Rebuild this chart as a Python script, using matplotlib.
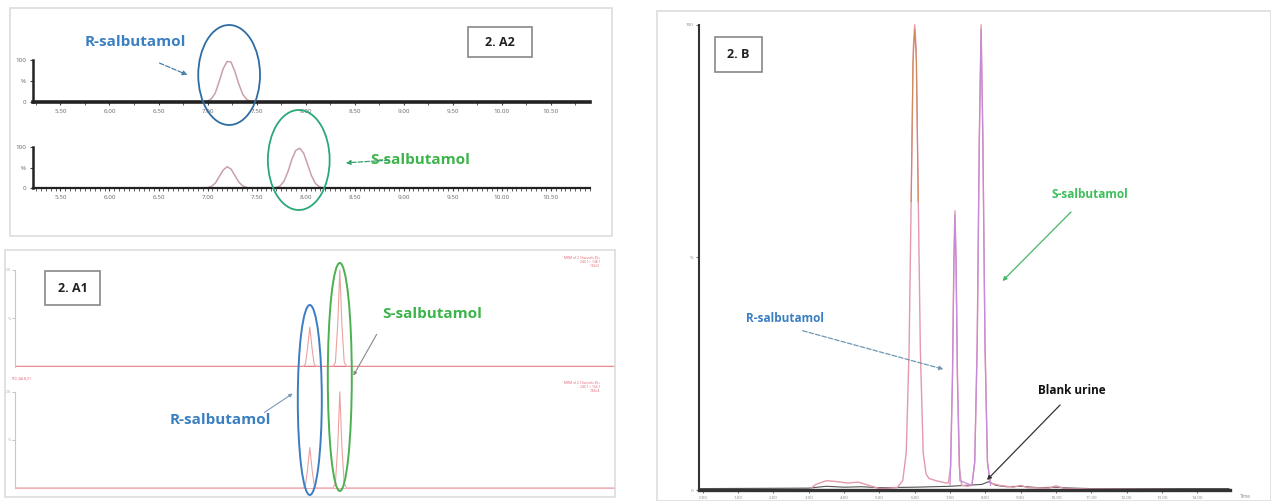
import matplotlib
matplotlib.use("Agg")
import matplotlib.pyplot as plt
import matplotlib.transforms as mtransforms
from matplotlib.patches import Ellipse, Rectangle
from matplotlib.ticker import MultipleLocator, FixedLocator

plt.rcParams["font.family"] = ["Open Sans", "DejaVu Sans"]

W, H = 1271, 501

# 2. A2 : R 채널 (위)
a2_top_t = [5.22, 6.96, 7.00, 7.04, 7.08, 7.12, 7.16, 7.20, 7.24, 7.28, 7.32, 7.36, 7.40, 7.44, 7.48, 10.90]
a2_top_i = [0, 0, 2, 8, 22, 50, 80, 97, 95, 72, 42, 18, 6, 1, 0, 0]
# 2. A2 : S 채널 (아래)
a2_bot_t = [5.22, 6.96, 7.00, 7.04, 7.08, 7.12, 7.16, 7.20, 7.24, 7.28, 7.32, 7.36, 7.40, 7.44,
            7.66, 7.70, 7.74, 7.78, 7.82, 7.86, 7.90, 7.94, 7.98, 8.02, 8.06, 8.10, 8.14, 8.18, 10.90]
a2_bot_i = [0, 0, 1, 4, 12, 28, 44, 52, 46, 30, 14, 5, 1, 0,
            0, 1, 5, 17, 40, 70, 92, 97, 85, 58, 30, 11, 3, 0, 0]
a2_ticks = [5.5, 6.0, 6.5, 7.0, 7.5, 8.0, 8.5, 9.0, 9.5, 10.0, 10.5]
a2_r_time = 7.22
a2_s_time = 7.93

# 2. A1
a1_t = [0, 7.20, 7.26, 7.31, 7.37, 7.43, 7.48, 7.54, 7.95, 8.01, 8.07, 8.12, 8.17, 8.23, 8.29, 15]
a1_up_i = [0, 0, 3, 18, 41, 18, 3, 0, 0, 5, 45, 100, 45, 5, 0, 0]
a1_low_i = [0, 0, 3, 18, 42, 18, 3, 0, 0, 5, 45, 100, 45, 5, 0, 0]
a1_r_time = 7.37
a1_s_time = 8.12

# 2. B
b_t = [-0.1, 3.0, 3.2, 3.5, 3.8, 4.1, 4.4, 4.7, 5.0, 5.5,
       5.66, 5.76, 5.84, 5.91, 5.96, 6.00, 6.04, 6.09, 6.16, 6.24,
       6.32, 6.40, 6.60, 6.90, 6.95, 7.02, 7.07, 7.11, 7.14, 7.17,
       7.21, 7.26, 7.33, 7.50, 7.62, 7.70, 7.77, 7.83, 7.88, 7.93,
       7.99, 8.06, 8.14, 8.40, 8.80, 9.0, 9.2, 9.8, 10.0, 10.2,
       11.0, 14.9]
b_i = [0, 0, 1.2, 2.0, 1.8, 1.5, 1.7, 1.0, 0.3, 0.5,
       2, 8, 30, 68, 95, 100, 95, 68, 30, 8,
       3.5, 2.5, 2, 1.5, 1.5, 5, 25, 50, 60, 50,
       25, 5, 1, 0.8, 1, 6, 32, 75, 100, 75,
       32, 6, 1.5, 1, 0.6, 1.0, 0.5, 0.4, 0.9, 0.4,
       0.2, 0]
b_v_t = [7.00, 7.07, 7.11, 7.14, 7.17, 7.21, 7.28, 7.62, 7.70, 7.77, 7.83, 7.88, 7.93, 7.99, 8.06, 8.15]
b_v_i = [1, 24, 49, 59, 49, 24, 2, 1, 6, 31, 76, 99, 76, 31, 6, 1]
b_o_t = [5.90, 5.95, 6.00, 6.05, 6.10]
b_o_i = [62, 92, 99, 92, 62]
b_blank_t = [-0.1, 3.0, 3.5, 4.0, 4.5, 5.0, 6.0, 7.0, 7.9, 8.1, 8.3, 8.6, 9.0, 9.5, 10.0, 10.5, 11.0, 14.9]
b_blank_i = [0.3, 0.4, 0.8, 0.6, 0.7, 0.5, 0.6, 0.8, 1.2, 1.8, 1.0, 0.7, 0.8, 0.5, 0.6, 0.4, 0.3, 0.3]
b_ticks = list(range(0, 15))
b_r_time = 7.14
b_s_time = 7.88


def box(x0, y0, x1, y1):
    return [x0 / W, 1 - y1 / H, (x1 - x0) / W, (y1 - y0) / H]


def trace_axes(ax, xlim, ylim, spine_col, lw_left, lw_bottom):
    ax.set_xlim(*xlim)
    ax.set_ylim(*ylim)
    ax.patch.set_alpha(0)
    for s in ["top", "right"]:
        ax.spines[s].set_visible(False)
    ax.spines["left"].set_color(spine_col)
    ax.spines["bottom"].set_color(spine_col)
    ax.spines["left"].set_linewidth(lw_left)
    ax.spines["bottom"].set_linewidth(lw_bottom)
    ax.spines["left"].set_bounds(0, 100)


fig = plt.figure(figsize=(W / 100, H / 100), dpi=100)
fig.patch.set_facecolor("white")

# ---- 2. A2 ----
ax_a2t = fig.add_axes(box(33, 58, 590, 102))
ax_a2b = fig.add_axes(box(33, 145, 590, 188))
for ax, t, i, minor, lwb in [(ax_a2t, a2_top_t, a2_top_i, 0.25, 2.6), (ax_a2b, a2_bot_t, a2_bot_i, 0.05, 1.6)]:
    trace_axes(ax, (5.22, 10.9), (0, 105), "#222222", 1.8, lwb)
    ax.plot(t, i, color="#c9a0a8", lw=1.1)
    ax.xaxis.set_major_locator(FixedLocator(a2_ticks))
    ax.xaxis.set_minor_locator(MultipleLocator(minor))
    ax.set_xticklabels(["%.2f" % v for v in a2_ticks])
    ax.set_yticks([0, 50, 100])
    ax.set_yticklabels(["0", "%", "100"])
    ax.tick_params(axis="both", which="major", labelsize=4.5, labelcolor="#666666",
                   length=2.5, width=0.8, color="#444444", pad=2.5)
    ax.tick_params(axis="x", which="minor", length=1.8, width=0.6, color="#444444")

# ---- 2. A1 ----
ax_a1u = fig.add_axes(box(15, 265, 615, 367))
ax_a1l = fig.add_axes(box(15, 387, 615, 488))
trace_axes(ax_a1u, (0, 15), (0, 105), "#c8c8c8", 0.8, 0.8)
trace_axes(ax_a1l, (0, 15), (0, 105), "#c8c8c8", 0.8, 0.8)
ax_a1u.spines["bottom"].set_visible(False)
ax_a1u.axhline(0, color="#e57380", lw=2.5, zorder=1)
ax_a1l.spines["bottom"].set_color("#f0b0b8")
ax_a1u.plot(a1_t, a1_up_i, color="#eea0a0", lw=0.8)
ax_a1l.plot(a1_t, a1_low_i, color="#eea0a0", lw=0.8)
for ax in [ax_a1u, ax_a1l]:
    ax.set_xticks([])
    ax.set_yticks([50, 100])
    ax.set_yticklabels(["%", "100"])
    ax.tick_params(axis="y", labelsize=3, labelcolor="#aaaaaa", length=2, width=0.6, color="#bbbbbb", pad=1)

# ---- 2. B ----
ax_b = fig.add_axes(box(699, 22, 1230, 490))
trace_axes(ax_b, (-0.11, 14.93), (0, 100.6), "#333333", 1.5, 2.4)
ax_b.plot(b_blank_t, b_blank_i, color="#555555", lw=0.8)
ax_b.plot(b_t, b_i, color="#e39aab", lw=1.0)
ax_b.plot(b_o_t, b_o_i, color="#cf8a5c", lw=0.8)
ax_b.plot(b_v_t, b_v_i, color="#c58ad8", lw=0.9)
ax_b.set_xticks(b_ticks)
ax_b.set_xticklabels(["%.2f" % v for v in b_ticks])
ax_b.set_yticks([0, 50, 100])
ax_b.set_yticklabels(["0", "%", "100"])
ax_b.tick_params(axis="both", labelsize=3.2, labelcolor="#888888", length=2, width=0.6, color="#555555", pad=2)

# ---- 주석용 오버레이 (픽셀 좌표) ----
ov = fig.add_axes([0, 0, 1, 1])
ov.set_xlim(0, W)
ov.set_ylim(H, 0)
ov.axis("off")
ov.patch.set_alpha(0)

for x0, y0, x1, y1 in [(10, 8, 612, 236), (5, 250, 615, 497), (657, 11, 1271, 501)]:
    ov.add_patch(Rectangle((x0, y0), x1 - x0, y1 - y0, fill=False, ec="#dddddd", lw=1.2))

for x0, y0, x1, y1, lab in [(468, 27, 532, 57, "2. A2"), (45, 271, 100, 305, "2. A1"), (715, 37, 762, 72, "2. B")]:
    ov.add_patch(Rectangle((x0, y0), x1 - x0, y1 - y0, fill=False, ec="#888888", lw=1.2))
    ov.text((x0 + x1) / 2, (y0 + y1) / 2, lab, ha="center", va="center", fontsize=9,
            fontweight="bold", color="#222222")

blue = "#3a7fc1"
green = "#3cb44a"

# A2 타원 / 라벨
bl_t = mtransforms.blended_transform_factory(ax_a2t.transData, ov.transData)
ov.add_patch(Ellipse((a2_r_time, 75), 0.63, 100, transform=bl_t, fill=False, ec="#2e6da4", lw=1.3))
ov.add_patch(Ellipse((a2_s_time, 160), 0.63, 100, transform=bl_t, fill=False, ec="#2aa877", lw=1.3))
ov.text(135, 42, "R-salbutamol", ha="center", va="center", fontsize=11, fontweight="bold", color=blue)
ov.annotate("", xy=(190, 76), xytext=(157, 62),
            arrowprops=dict(arrowstyle="-|>", ls="--", color="#4a7fa8", lw=0.9, mutation_scale=7))
ov.text(420, 160, "S-salbutamol", ha="center", va="center", fontsize=11, fontweight="bold", color=green)
ov.annotate("", xy=(343, 163), xytext=(392, 160),
            arrowprops=dict(arrowstyle="-|>", ls="--", color="#3aa070", lw=0.9, mutation_scale=7))

# A1 타원 / 라벨
bl_a1 = mtransforms.blended_transform_factory(ax_a1u.transData, ov.transData)
ov.add_patch(Ellipse((a1_r_time, 400), 0.6, 190, transform=bl_a1, fill=False, ec="#3c7cc0", lw=1.4))
ov.add_patch(Ellipse((a1_s_time, 377), 0.6, 228, transform=bl_a1, fill=False, ec="#4caf50", lw=1.4))
ov.text(432, 314, "S-salbutamol", ha="center", va="center", fontsize=11, fontweight="bold", color=green)
ov.annotate("", xy=(352, 378), xytext=(378, 332),
            arrowprops=dict(arrowstyle="-|>", color="#888888", lw=0.8, mutation_scale=5))
ov.text(220, 420, "R-salbutamol", ha="center", va="center", fontsize=11, fontweight="bold", color=blue)
ov.annotate("", xy=(295, 392), xytext=(262, 414),
            arrowprops=dict(arrowstyle="-|>", color="#7a9ab8", lw=0.8, mutation_scale=5))
ov.text(600, 262, "MRM of 2 Channels ES+\n240.1 > 148.1\n1.62e5", ha="right", va="center",
        fontsize=2.3, color="#e06070", linespacing=1.1)
ov.text(12, 378, "STD_SALB_01", ha="left", va="center", fontsize=2.3, color="#e06070")
ov.text(600, 387, "MRM of 2 Channels ES+\n240.1 > 166.1\n7.84e4", ha="right", va="center",
        fontsize=2.3, color="#e06070", linespacing=1.1)

# B 라벨
bl_b = mtransforms.blended_transform_factory(ax_b.transData, ov.transData)
ov.text(1090, 195, "S-salbutamol", ha="center", va="center", fontsize=8.5, fontweight="bold", color="#3cbf5a")
ov.annotate("", xy=(b_s_time + 0.55, 283), xytext=(1073, 210), xycoords=bl_b, textcoords="data",
            arrowprops=dict(arrowstyle="-|>", color="#44b866", lw=0.9, mutation_scale=6))
ov.text(785, 318, "R-salbutamol", ha="center", va="center", fontsize=8.5, fontweight="bold", color=blue)
ov.annotate("", xy=(b_r_time - 0.25, 370), xytext=(800, 330), xycoords=bl_b, textcoords="data",
            arrowprops=dict(arrowstyle="-|>", ls="--", color="#6f97b5", lw=0.9, mutation_scale=6))
ov.text(1072, 390, "Blank urine", ha="center", va="center", fontsize=8.5, fontweight="bold", color="#111111")
ov.annotate("", xy=(985, 482), xytext=(1062, 403),
            arrowprops=dict(arrowstyle="-|>", color="#333333", lw=0.9, mutation_scale=6))
ov.text(1245, 497, "Time", ha="center", va="center", fontsize=3.5, color="#888888")

fig.savefig("out.png", dpi=100)
